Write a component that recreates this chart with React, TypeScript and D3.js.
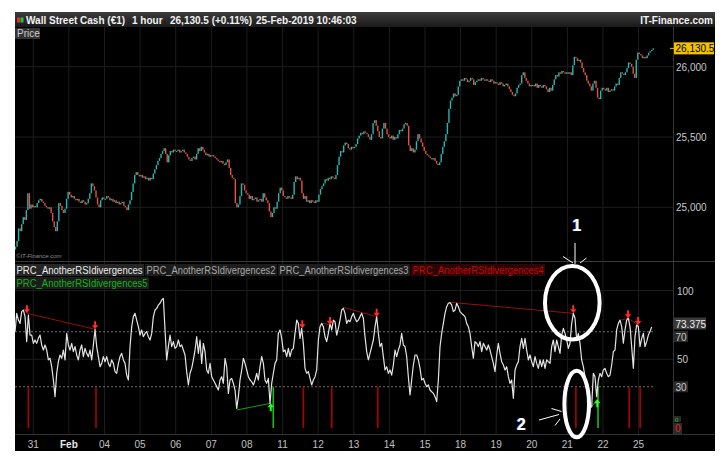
import React from "react";
import * as d3 from "d3";

const W = 723;
const H = 461;

// ---------- DATA ----------
const dayLabels = ["31", "Feb", "04", "05", "06", "07", "08", "11", "12", "13", "14", "15", "18", "19", "20", "21", "22", "25"];
const dayStartBars = [12, 35, 58, 81, 104, 127, 150, 173, 196, 219, 242, 265, 288, 311, 334, 357, 380, 403];

const firstOpen = 24700;
const closes = [
  // Jan 30 (partial)
  24720, 24760, 24850, 24830, 24880, 24930, 24910, 24980, 25100, 24990, 25020, 25000,
  // Jan 31
  25010, 25000, 25030, 25050, 25060, 25040, 25030, 25010, 25000, 24990, 25000, 24960, 24900, 24860, 24830, 24900, 25030, 25010, 24980, 24960, 24990, 25060, 25110,
  // Feb 1
  25090, 25070, 25080, 25060, 25050, 25060, 25040, 25030, 25050, 25040, 25020, 25030, 25060, 25100, 25170, 25150, 25120, 25070, 25020, 25000, 25050, 25070, 25060,
  // Feb 4
  25060, 25080, 25070, 25050, 25060, 25040, 25050, 25030, 25040, 25020, 25030, 25040, 25010, 25000, 24980, 25020, 25050, 25110, 25170, 25230, 25250, 25230, 25220,
  // Feb 5
  25230, 25210, 25220, 25200, 25210, 25190, 25210, 25200, 25240, 25270, 25300, 25330, 25350, 25380, 25400, 25420, 25380, 25320, 25370, 25400, 25390, 25410, 25400,
  // Feb 6
  25400, 25410, 25390, 25400, 25410, 25390, 25380, 25360, 25340, 25330, 25350, 25360, 25340, 25380, 25420, 25400, 25430, 25410, 25390, 25370, 25380, 25360, 25370,
  // Feb 7
  25370, 25360, 25350, 25340, 25330, 25320, 25330, 25310, 25300, 25320, 25340, 25280, 25230, 25210, 25200, 25030, 25000, 25020, 25080, 25170, 25160, 25120, 25100,
  // Feb 8
  25090, 25060, 25080, 25050, 25060, 25070, 25040, 25050, 25060, 25040, 25100, 25070, 25050, 25030, 24970, 24930, 24960, 25000, 24990, 25040, 25100, 25140, 25120,
  // Feb 11
  25080, 25070, 25060, 25080, 25070, 25060, 25090, 25180, 25220, 25200, 25210, 25190, 25100, 25060, 25080, 25040, 25050, 25030, 25050, 25040, 25030, 25050, 25040,
  // Feb 12
  25090, 25130, 25150, 25170, 25200, 25190, 25210, 25200, 25220, 25210, 25200, 25230, 25300, 25360, 25400, 25390, 25440, 25460, 25450, 25420, 25410, 25430, 25420,
  // Feb 13
  25430, 25450, 25490, 25510, 25530, 25520, 25540, 25530, 25520, 25500, 25480, 25520, 25600, 25620, 25580, 25540, 25500, 25490, 25560, 25600, 25560, 25520, 25500,
  // Feb 14
  25490, 25510, 25480, 25500, 25490, 25520, 25550, 25540, 25560, 25590, 25600, 25580, 25440, 25400, 25420, 25390, 25410, 25470, 25520, 25490, 25460, 25430, 25400,
  // Feb 15
  25380, 25370, 25360, 25350, 25340, 25350, 25330, 25310, 25300, 25320, 25380, 25430, 25470, 25520, 25600, 25700, 25760, 25780, 25810, 25790, 25800, 25860, 25900,
  // Feb 18
  25910, 25900, 25920, 25910, 25890, 25900, 25920, 25910, 25870, 25890, 25900, 25910, 25900, 25920, 25910, 25900, 25910, 25900, 25890, 25910, 25900, 25880, 25890,
  // Feb 19
  25880, 25870, 25890, 25880, 25860, 25870, 25880, 25860, 25840, 25820, 25800, 25790, 25810, 25850, 25870, 25880, 25940, 25960, 25920, 25900, 25880, 25860, 25870,
  // Feb 20
  25870, 25860, 25880, 25850, 25870, 25860, 25850, 25870, 25860, 25840, 25820, 25850, 25830, 25870, 25910, 25940, 25930, 25960, 25950, 25970, 25960, 25950, 25960,
  // Feb 21
  25950, 25960, 25940, 26010, 26070, 26060, 26040, 26050, 26030, 25990, 25960, 25940, 25900, 25880, 25860, 25830, 25880, 25900, 25850, 25780, 25770, 25830, 25850,
  // Feb 22
  25840, 25830, 25850, 25820, 25830, 25840, 25830, 25860, 25880, 25870, 25920, 25960, 25950, 25940, 25960, 25990, 26030, 26020, 26000, 25950, 25920, 26050, 26100,
  // Feb 25 (partial)
  26090, 26080, 26060, 26070, 26060, 26080, 26100, 26110, 26120, 26130.5,
];

const priceTicks = [25000, 25500, 26000];
const priceTickLabels = ["25,000", "25,500", "26,000"];
const lastPriceLabel = "26,130.5";

const rsi = [
  70.1, 83.4, 78.5, 76.1, 84.6, 85.8, 81.0, 62.8, 82.2, 67.6, 67.6, 61.6, 64.0, 61.6, 65.2, 67.6, 60.4, 56.7, 60.4, 56.7,
  49.5, 50.7, 44.6, 34.9, 22.8, 39.8, 48.2, 53.1, 50.7, 56.7, 49.5, 68.8, 60.4, 56.7, 61.6, 55.5, 59.2, 53.1, 49.5, 56.7,
  60.4, 51.9, 57.9, 54.3, 51.9, 56.7, 49.5, 60.4, 71.8, 59.2, 51.9, 44.6, 47.0, 51.9, 48.2, 51.9, 47.0, 44.6, 49.5, 47.0,
  41.0, 39.8, 47.0, 51.9, 54.3, 49.5, 47.0, 38.5, 34.9, 59.2, 73.7, 81.0, 83.4, 78.5, 73.7, 67.6, 71.3, 66.4, 68.8, 70.1,
  66.4, 64.0, 68.8, 81.0, 85.8, 87.0, 89.5, 90.7, 93.1, 94.3, 71.3, 49.5, 59.2, 67.6, 59.2, 62.8, 57.9, 59.2, 64.0, 59.2,
  60.4, 56.7, 53.1, 41.0, 31.3, 39.8, 43.4, 49.5, 56.7, 66.4, 54.3, 64.0, 47.0, 61.6, 55.5, 42.2, 39.8, 47.0, 37.3, 34.9,
  32.5, 30.1, 27.6, 34.9, 37.3, 32.5, 50.7, 44.6, 25.2,
  34.9, 36.1, 32.5, 27.6, 14.3, 22.8, 34.9, 42.2, 50.7, 47.0, 42.2, 37.3, 34.9, 33.7, 31.3, 34.9, 39.8, 34.9, 44.6, 51.9,
  47.0, 34.9, 32.5, 36.1, 17.9, 32.5, 39.8, 47.0, 49.5, 68.8, 71.3, 65.2, 55.5, 56.7, 51.9, 57.9, 51.9, 56.7, 57.9, 68.8,
  78.5, 76.1, 65.2, 72.5, 61.6, 43.4, 39.8, 41.0, 36.1, 31.3, 34.9, 37.3, 42.2, 64.0, 73.7, 76.1, 73.7, 66.4, 62.8, 68.8,
  76.1, 71.3, 78.5, 77.3, 67.6, 72.5, 78.5, 85.8, 87.0, 83.4, 76.1, 78.5, 77.3, 81.0, 83.4, 79.8, 77.3, 78.5, 81.0, 83.4,
  79.8, 66.4, 55.5, 49.5, 54.3, 59.2, 64.0, 73.7, 81.0, 68.8, 59.2, 61.6, 51.9, 42.2, 44.6, 39.8, 42.2, 38.5, 45.8, 56.7,
  51.9, 56.7, 60.4, 68.8, 60.4, 59.2, 51.9, 37.3, 24.0, 34.9, 45.8, 53.1, 53.1, 49.5, 43.4, 34.9, 36.1, 32.5, 30.1, 31.3,
  27.6, 26.4, 25.2, 22.8, 19.2, 34.9, 59.2, 68.8, 76.1, 83.4, 88.2, 90.7, 91.2, 89.5, 84.6, 85.8, 90.7, 88.2,
  84.6, 83.4, 82.2, 81.0, 76.1, 73.7, 68.8, 59.2, 50.7, 62.8, 61.6, 59.2, 62.8, 55.5, 61.6, 59.2, 56.7, 60.4, 56.7, 51.9,
  47.0, 41.0, 53.1, 61.6, 54.3, 48.2, 45.8, 42.2, 44.6, 37.3, 32.5, 34.9, 21.6, 42.2, 45.8, 48.2, 59.2, 65.2, 57.9, 65.2,
  56.7, 49.5, 53.1, 48.2, 44.6, 51.9, 47.0, 43.4, 49.5, 44.6, 49.5, 43.4, 49.5, 48.2, 47.0, 59.2, 64.0, 55.5, 64.0, 59.2,
  54.3, 67.6, 72.5, 68.8, 64.0, 57.9, 61.6, 76.1, 83.4, 79.8, 64.0, 68.8, 61.6, 49.5, 44.6, 37.3, 27.6, 20.4, 14.3, 15.5,
  39.8, 37.3, 22.8, 34.9, 39.8, 37.3, 42.2, 43.4, 39.8, 37.3, 38.5, 45.8, 55.5, 56.7, 71.3, 76.1, 78.5, 73.7, 61.6, 71.3,
  78.5, 79.8, 73.7, 59.2, 43.4, 66.4, 74.9, 73.7, 59.2, 65.2, 68.8, 59.2, 62.8, 67.6, 70.1, 73.4,
];
const rsiGridLevels = [100, 50];
const rsiDashedLevels = [70, 30];
const lastRsiLabel = "73.375";

// divergences: bar index and RSI value at both ends
const bearDivergences = [
  { fromBar: 7.4, fromValue: 83.4, toBar: 51.4, toValue: 71.8 },
  { fromBar: 198.8, fromValue: 76.1, toBar: 203.2, toValue: 74.9 },
  { fromBar: 211.4, fromValue: 87.8, toBar: 233.3, toValue: 81.0 },
  { fromBar: 280.7, fromValue: 91.4, toBar: 360.3, toValue: 83.4 },
  { fromBar: 391.4, fromValue: 78.5, toBar: 395.7, toValue: 79.8 },
  { fromBar: 395.7, fromValue: 79.8, toBar: 402.2, toValue: 74.9 },
];
const bullDivergences = [
  { fromBar: 142.9, fromValue: 13.1, toBar: 164.9, toValue: 18.0 },
  { fromBar: 372.2, fromValue: 15.5, toBar: 375.8, toValue: 20.9 },
];
const bearArrowBars = [7.4, 51.4, 185.3, 203.2, 233.3, 360.3, 395.7, 402.2];
const bearArrowValues = [83.4, 71.8, 72.5, 74.9, 81.0, 83.4, 79.8, 74.9];
const bullArrowBars = [164.9, 375.8];
const bullArrowValues = [18.0, 20.9];
const bearSignalBars = [8.3, 52, 186, 204.3, 234, 362, 396.4, 403.5];
const bullSignalBars = [166.5, 376.3];
const signalValue = 30;

const legendItems = [
  { text: "PRC_AnotherRSIdivergences", color: "#ececec", bg: "#262626" },
  { text: "PRC_AnotherRSIdivergences2", color: "#a8a8a8", bg: "#1c1c1c" },
  { text: "PRC_AnotherRSIdivergences3", color: "#a8a8a8", bg: "#1c1c1c" },
  { text: "PRC_AnotherRSIdivergences4", color: "#d00000", bg: "#2a0606" },
];
const legendItem5 = { text: "PRC_AnotherRSIdivergences5", color: "#13b313", bg: "#1c1c1c" };

// ---------- LAYOUT ----------
const FONT = "'Liberation Sans', Arial, sans-serif";
const frameL = 15, frameR = 715, frameT = 12, frameB = 451;
const plotR = 673;
const priceTop = 27, priceBottom = 260;
const rsiTop = 262, rsiBottom = 434;

export default function App() {
  const nBars = closes.length;
  const xBar = d3.scaleLinear().domain([0, nBars - 1]).range([15.5, 653.3]);
  const xRsi = d3.scaleLinear().domain([0, rsi.length - 1]).range([xBar(-0.3), xBar(nBars - 2.05)]);
  const yP = d3.scaleLinear().domain([25000, 26000]).range([207.3, 66.7]);
  const yR = d3.scaleLinear().domain([0, 100]).range([428, 290.5]);

  const candles = closes.map((c, i) => {
    const o = i === 0 ? firstOpen : closes[i - 1];
    return { i, o, c, up: c >= o };
  });

  const rsiLine = d3.line<number>().x((_, j) => xRsi(j)).y((v) => yR(v))(rsi) || "";

  const upColor = "#22b8b3";
  const downColor = "#e2543f";
  const gridColor = "#1d1d1d";

  const downArrow = (x: number, y: number) =>
    `M${x - 1},${y - 8} L${x + 1},${y - 8} L${x + 1},${y - 4} L${x + 3.2},${y - 4} L${x},${y} L${x - 3.2},${y - 4} L${x - 1},${y - 4} Z`;
  const upArrow = (x: number, y: number) =>
    `M${x - 1},${y + 8} L${x + 1},${y + 8} L${x + 1},${y + 4} L${x + 3.2},${y + 4} L${x},${y} L${x - 3.2},${y + 4} L${x - 1},${y + 4} Z`;

  const legendX = [15, 145, 278, 411, 546];

  return (
    <svg
      width={W}
      height={H}
      style={{ position: "absolute", left: 0, top: 0, background: "#fff" }}
      fontFamily={FONT}
    >
      <defs>
        <linearGradient id="hdr" x1="0" y1="0" x2="0" y2="1">
          <stop offset="0" stopColor="#3c3c3c" />
          <stop offset="1" stopColor="#1a1a1a" />
        </linearGradient>
        <clipPath id="pclip">
          <rect x={frameL} y={priceTop} width={plotR - frameL} height={priceBottom - priceTop} />
        </clipPath>
        <clipPath id="rclip">
          <rect x={frameL} y={rsiTop} width={plotR - frameL} height={rsiBottom - rsiTop} />
        </clipPath>
      </defs>

      {/* frame */}
      <rect x={frameL} y={frameT} width={frameR - frameL} height={frameB - frameT} fill="#000" />
      <rect x={frameL} y={frameT} width={frameR - frameL} height={15} fill="url(#hdr)" />

      {/* header */}
      <rect x={17} y={17.5} width={3} height={5} fill="#e03030" />
      <rect x={20.5} y={17.5} width={3} height={5} fill="#30c030" />
      <g fontSize={10} fontWeight="bold" fill="#f2f2f2">
        <text x={26} y={24}>Wall Street Cash (€1)</text>
        <text x={132} y={24}>1 hour</text>
        <text x={170} y={24}>26,130.5 (+0.11%)</text>
        <text x={256} y={24}>25-Feb-2019 10:46:03</text>
        <text x={713} y={24} textAnchor="end">IT-Finance.com</text>
      </g>

      {/* vertical day grid */}
      {dayStartBars.map((b) => (
        <line key={"vg" + b} x1={xBar(b - 0.5)} x2={xBar(b - 0.5)} y1={priceTop} y2={rsiBottom} stroke={gridColor} strokeWidth={1} />
      ))}

      {/* price grid */}
      {priceTicks.map((p) => (
        <line key={"pg" + p} x1={frameL} x2={plotR} y1={yP(p)} y2={yP(p)} stroke={gridColor} />
      ))}

      {/* candles */}
      <g clipPath="url(#pclip)">
        {candles.map((d) => {
          const yTop = yP(Math.max(d.o, d.c));
          const yBot = yP(Math.min(d.o, d.c));
          return (
            <rect
              key={d.i}
              x={xBar(d.i) - 0.7}
              y={yTop}
              width={1.4}
              height={Math.max(1, yBot - yTop)}
              fill={d.up ? upColor : downColor}
            />
          );
        })}
      </g>

      {/* Price label */}
      <rect x={15} y={28} width={25} height={11} fill="#333" />
      <text x={17} y={37} fontSize={10} fill="#cfcfcf">Price</text>
      <text x={16} y={258} fontSize={6} fontStyle="italic" fill="#8a8a8a">©IT-Finance.com</text>

      {/* right axis */}
      <line x1={plotR + 0.5} x2={plotR + 0.5} y1={priceTop} y2={rsiBottom} stroke="#333" />
      {priceTicks.map((p, k) => (
        <text key={"pt" + p} x={676} y={yP(p) + 4} fontSize={10} fill="#c8c8c8">{priceTickLabels[k]}</text>
      ))}
      <line x1={670} x2={674} y1={yP(closes[nBars - 1])} y2={yP(closes[nBars - 1])} stroke="#f0c400" />
      <rect x={674} y={yP(closes[nBars - 1]) - 6} width={40} height={12} fill="#f2c200" />
      <text x={675.5} y={yP(closes[nBars - 1]) + 4} fontSize={10} fill="#000">{lastPriceLabel}</text>

      {/* panel separator */}
      <line x1={frameL} x2={frameR} y1={261.5} y2={261.5} stroke="#3a3a3a" />

      {/* RSI grid */}
      {rsiGridLevels.map((v) => (
        <line key={"rg" + v} x1={frameL} x2={plotR} y1={yR(v)} y2={yR(v)} stroke={gridColor} />
      ))}
      {rsiDashedLevels.map((v) => (
        <line key={"rd" + v} x1={frameL} x2={xBar(nBars - 1)} y1={yR(v)} y2={yR(v)} stroke="#8a8a8a" strokeDasharray="2,2" strokeWidth={0.8} />
      ))}

      <g clipPath="url(#rclip)">
        {/* signal bars */}
        {bearSignalBars.map((b) => (
          <line key={"bs" + b} x1={xBar(b)} x2={xBar(b)} y1={yR(signalValue)} y2={yR(0)} stroke="#b00000" strokeWidth={1.6} />
        ))}
        {bullSignalBars.map((b) => (
          <line key={"us" + b} x1={xBar(b)} x2={xBar(b)} y1={yR(signalValue)} y2={yR(0)} stroke="#10c010" strokeWidth={1.6} />
        ))}
        {/* divergence lines */}
        {bearDivergences.map((d, k) => (
          <line key={"bd" + k} x1={xBar(d.fromBar)} y1={yR(d.fromValue)} x2={xBar(d.toBar)} y2={yR(d.toValue)} stroke="#8e1212" strokeWidth={1} />
        ))}
        {bullDivergences.map((d, k) => (
          <line key={"ud" + k} x1={xBar(d.fromBar)} y1={yR(d.fromValue)} x2={xBar(d.toBar)} y2={yR(d.toValue)} stroke="#169a16" strokeWidth={1} />
        ))}
        {/* RSI line */}
        <path d={rsiLine} fill="none" stroke="#e4e4e4" strokeWidth={1.2} strokeLinejoin="round" />
        {/* arrows */}
        {bearArrowBars.map((b, k) => (
          <path key={"ba" + k} d={downArrow(xBar(b), yR(bearArrowValues[k]))} fill="#ff2a2a" />
        ))}
        {bullArrowBars.map((b, k) => (
          <path key={"ua" + k} d={upArrow(xBar(b), yR(bullArrowValues[k]))} fill="#2aff2a" />
        ))}
      </g>

      {/* legend */}
      {legendItems.map((it, k) => {
        const w = legendX[k + 1] - 1 - legendX[k];
        return (
          <g key={"lg" + k}>
            <rect x={legendX[k]} y={264} width={w} height={12} fill={it.bg} />
            <text x={legendX[k] + 1.5} y={273.5} fontSize={10} fill={it.color} textLength={w - 3} lengthAdjust="spacingAndGlyphs">{it.text}</text>
          </g>
        );
      })}
      <rect x={15} y={277} width={134} height={12} fill={legendItem5.bg} />
      <text x={16.5} y={286.5} fontSize={10} fill={legendItem5.color} textLength={131} lengthAdjust="spacingAndGlyphs">{legendItem5.text}</text>

      {/* RSI axis labels */}
      {rsiGridLevels.map((v) => (
        <text key={"rl" + v} x={677} y={yR(v) + 4} fontSize={10} fill="#c8c8c8">{v}</text>
      ))}
      <rect x={674} y={317.5} width={32} height={12} fill="#3a3a3a" />
      <text x={675.5} y={327.5} fontSize={10} fill="#f0f0f0">{lastRsiLabel}</text>
      <rect x={674} y={331} width={14} height={11} fill="#2a2a2a" />
      <text x={675.5} y={340.5} fontSize={10} fill="#c8c8c8">{rsiDashedLevels[0]}</text>
      <rect x={674} y={yR(30) - 5.5} width={14} height={11} fill="#2a2a2a" />
      <text x={675.5} y={yR(30) + 4} fontSize={10} fill="#c8c8c8">{rsiDashedLevels[1]}</text>
      <rect x={674} y={416} width={7} height={6} fill="#2a2a2a" />
      <text x={675} y={421.5} fontSize={6} fill="#20c020">0</text>
      <rect x={674} y={423} width={8} height={11} fill="#2a2a2a" />
      <text x={675} y={432} fontSize={10} fill="#e02020">0</text>

      {/* time axis */}
      <line x1={frameL} x2={frameR} y1={rsiBottom + 0.5} y2={rsiBottom + 0.5} stroke="#333" />
      {dayStartBars.map((b, k) => (
        <text
          key={"tl" + b}
          x={xBar(b - 0.5)}
          y={447.5}
          fontSize={10}
          textAnchor="middle"
          fill={dayLabels[k] === "Feb" ? "#e8e8e8" : "#c0c0c0"}
          fontWeight={dayLabels[k] === "Feb" ? "bold" : "normal"}
        >
          {dayLabels[k]}
        </text>
      ))}

      {/* annotations */}
      <ellipse cx={572.3} cy={302.7} rx={27.3} ry={36.8} fill="none" stroke="#fff" strokeWidth={4} />
      <ellipse cx={576.7} cy={404} rx={12.3} ry={33.3} fill="none" stroke="#fff" strokeWidth={4} />
      <g stroke="#fff" strokeWidth={1}>
        <line x1={575} y1={243} x2={575} y2={264} />
        <line x1={563} y1={256.5} x2={573} y2={263} />
        <line x1={586.5} y1={258} x2={580} y2={263} />
        <line x1={539} y1={420} x2={559} y2={414.5} />
        <line x1={551.5} y1={408.5} x2={561.5} y2={411.5} />
        <line x1={555} y1={425.5} x2={560} y2={419} />
      </g>
      <text x={576.2} y={231} fontSize={16} fontWeight="bold" fill="#7fb0ff" textAnchor="middle">1</text>
      <text x={577} y={231} fontSize={16} fontWeight="bold" fill="#fff" textAnchor="middle">1</text>
      <text x={520.7} y={429.5} fontSize={16} fontWeight="bold" fill="#7fb0ff" textAnchor="middle">2</text>
      <text x={521.5} y={429.5} fontSize={16} fontWeight="bold" fill="#fff" textAnchor="middle">2</text>
    </svg>
  );
}
